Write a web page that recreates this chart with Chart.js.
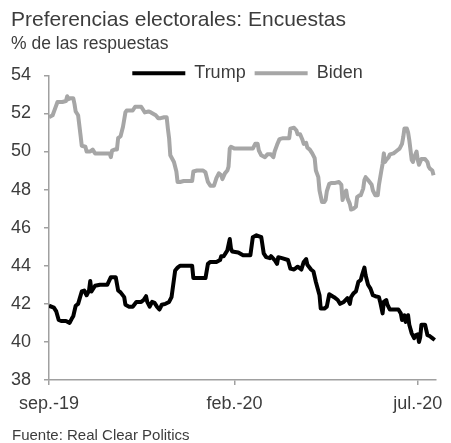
<!DOCTYPE html>
<html lang="es">
<head>
<meta charset="utf-8">
<title>Preferencias electorales: Encuestas</title>
<script src="https://cdn.jsdelivr.net/npm/chart.js@4.4.1/dist/chart.umd.min.js"></script>
<style>
  html, body { margin: 0; padding: 0; background: #ffffff; }
  #marco { width: 451px; height: 443px; }
</style>
</head>
<body>
<div id="marco"><canvas id="grafico" width="451" height="443"></canvas></div>
<script>
// Textos
const titulo = 'Preferencias electorales: Encuestas';
const subtitulo = '% de las respuestas';
const textoFuente = 'Fuente: Real Clear Politics';

// Eje X: días transcurridos desde el 1 de septiembre de 2019
const ejeMaxDia = 319;
const ticksDias = [0, 153, 304];
const ticksEtiquetas = ['sep.-19', 'feb.-20', 'jul.-20'];

// Eje Y
const yMin = 38;
const yMax = 54;
const yPaso = 2;

// Series: promedio de encuestas (%)
const nombreTrump = 'Trump';
const diasTrump = [
  0, 4, 6, 8, 10, 14, 17, 19, 20, 22, 24, 27, 29, 31, 33, 34, 35, 38, 42, 48,
  51, 55, 57, 59, 62, 63, 66, 69, 72, 76, 78, 80, 81, 83, 85, 87, 89, 91, 93, 96,
  99, 101, 104, 106, 108, 118, 119, 129, 131, 133, 138, 141, 142, 144, 146, 147, 149, 150, 151, 156,
  160, 166, 168, 171, 175, 177, 179, 182, 183, 186, 188, 189, 192, 197, 199, 202, 205, 208, 210, 212,
  213, 216, 218, 220, 223, 224, 227, 229, 231, 235, 238, 240, 243, 246, 248, 249, 251, 253, 255, 257,
  258, 260, 261, 263, 265, 267, 269, 272, 273, 275, 276, 278, 279, 281, 284, 288, 290, 291, 293, 294,
  296, 297, 299, 301, 302, 304, 305, 306, 307, 310, 312, 314, 316, 318
];
const valoresTrump = [
  41.9, 41.8, 41.6, 41.15, 41.1, 41.1, 41.0, 41.25, 41.35, 41.9, 42.0, 42.65, 42.7, 42.45, 42.7, 43.2, 42.65, 42.95, 43.0, 43.0,
  43.4, 43.4, 42.7, 42.6, 42.35, 41.95, 41.85, 41.85, 42.1, 42.1, 42.2, 42.4, 42.1, 41.85, 42.1, 42.05, 41.85, 41.7, 41.95, 42.0,
  42.1, 42.35, 43.75, 43.9, 44.0, 44.0, 43.35, 43.35, 44.1, 44.2, 44.2, 44.3, 44.5, 44.5, 44.7, 44.8, 45.4, 44.9, 44.75, 44.7,
  44.55, 44.55, 45.5, 45.6, 45.5, 44.65, 44.45, 44.4, 44.5, 44.3, 44.1, 44.45, 44.4, 44.3, 43.85, 43.8, 43.95, 43.8, 44.2, 44.35,
  44.05, 43.8, 43.7, 43.15, 42.45, 41.75, 41.75, 41.85, 42.5, 42.35, 42.2, 42.0, 42.1, 42.3, 42.0, 42.35, 42.55, 42.65, 43.15, 43.25,
  43.5, 43.9, 43.5, 43.0, 42.8, 42.45, 42.4, 42.35, 42.1, 41.5, 42.1, 42.2, 41.95, 41.7, 41.7, 41.7, 41.5, 41.15, 41.4, 41.05,
  41.4, 40.9, 40.45, 40.2, 40.35, 40.4, 40.0, 40.25, 40.9, 40.9, 40.35, 40.3, 40.2, 40.1
];

const nombreBiden = 'Biden';
const diasBiden = [
  0, 3, 5, 7, 11, 14, 15, 16, 18, 20, 21, 22, 24, 26, 27, 30, 31, 34, 36, 38,
  42, 48, 50, 51, 52, 54, 56, 57, 59, 61, 63, 64, 69, 71, 76, 78, 79, 82, 84, 88,
  90, 92, 95, 97, 98, 99, 100, 103, 105, 106, 108, 111, 118, 119, 122, 127, 129, 131, 133, 136,
  138, 140, 142, 143, 145, 147, 148, 149, 150, 153, 168, 170, 172, 173, 175, 178, 180, 183, 185, 186,
  188, 190, 193, 198, 199, 202, 204, 205, 207, 209, 210, 212, 213, 215, 217, 219, 220, 222, 223, 225,
  227, 228, 229, 231, 233, 236, 239, 241, 242, 243, 245, 246, 248, 249, 251, 253, 254, 256, 257, 259,
  260, 261, 263, 266, 267, 269, 271, 272, 274, 275, 276, 277, 278, 280, 281, 284, 286, 287, 289, 291,
  292, 293, 295, 296, 297, 299, 300, 301, 303, 304, 305, 307, 310, 312, 313, 314, 316, 317
];
const valoresBiden = [
  51.8, 51.9, 52.25, 52.6, 52.6, 52.65, 52.9, 52.75, 52.8, 52.8, 52.5, 52.1, 51.9, 50.85, 50.3, 50.25, 50.0, 50.0, 50.1, 49.9,
  49.9, 49.9, 49.9, 49.7, 50.05, 50.1, 50.1, 50.7, 50.8, 51.3, 52.05, 52.15, 52.15, 52.35, 52.35, 52.15, 52.05, 52.1, 52.05, 51.9,
  51.75, 51.75, 51.8, 51.8, 51.2, 50.7, 49.8, 49.45, 48.95, 48.4, 48.4, 48.45, 48.45, 48.95, 49.0, 49.0, 48.9, 48.4, 48.2, 48.2,
  48.6, 48.85, 48.75, 48.55, 48.85, 49.0, 49.2, 50.15, 50.25, 50.15, 50.15, 50.4, 50.4, 50.05, 49.8, 49.7, 49.85, 49.85, 49.7, 50.0,
  50.35, 50.65, 50.7, 50.7, 51.2, 51.25, 51.1, 50.9, 50.9, 50.6, 50.4, 50.45, 50.2, 50.1, 49.9, 49.65, 49.0, 48.65, 47.95, 47.35,
  47.35, 47.45, 47.9, 48.3, 48.35, 48.35, 48.4, 48.25, 47.45, 47.7, 47.95, 47.55, 47.25, 46.95, 47.0, 47.1, 47.6, 47.7, 47.7, 48.05,
  48.5, 48.65, 48.5, 48.25, 47.95, 47.7, 47.7, 48.25, 49.0, 49.35, 49.9, 49.45, 49.55, 49.7, 49.85, 49.9, 50.0, 50.05, 50.15, 50.4,
  50.75, 51.2, 51.2, 51.0, 50.6, 49.55, 49.45, 49.7, 50.0, 49.55, 49.3, 49.6, 49.6, 49.45, 49.2, 49.1, 49.0, 48.75
];

// Estilo
const familia = '"Liberation Sans", Arial, Helvetica, sans-serif';
const colorTexto = '#3c3c3c';
const colorEje = '#a0a0a0';
const colorTrump = '#000000';
const colorBiden = '#a6a6a6';

const puntos = (dias, valores) => dias.map((d, i) => ({ x: d, y: valores[i] }));

// La leyenda ocupa una franja baja sobre el área del gráfico; se amplía su
// zona de recorte para que las etiquetas se dibujen completas y se desplaza
// ligeramente hacia la derecha.
const ajusteLeyenda = {
  id: 'ajusteLeyenda',
  afterLayout(chart) {
    const ley = chart.legend;
    if (ley) {
      ley.height += 20;
      ley.bottom += 20;
      ley.left += 5;
      ley.right += 5;
    }
  }
};

// Nota de fuente al pie del gráfico
const notaFuente = {
  id: 'notaFuente',
  afterDraw(chart) {
    const ctx = chart.ctx;
    ctx.save();
    ctx.font = '15px ' + familia;
    ctx.fillStyle = colorTexto;
    ctx.textAlign = 'left';
    ctx.textBaseline = 'alphabetic';
    ctx.fillText(textoFuente, 12, 440);
    ctx.restore();
  }
};

Chart.defaults.font.family = familia;
Chart.defaults.color = colorTexto;

new Chart(document.getElementById('grafico'), {
  type: 'line',
  data: {
    datasets: [
      {
        label: nombreTrump,
        data: puntos(diasTrump, valoresTrump),
        borderColor: colorTrump,
        backgroundColor: colorTrump,
        borderWidth: 4
      },
      {
        label: nombreBiden,
        data: puntos(diasBiden, valoresBiden),
        borderColor: colorBiden,
        backgroundColor: colorBiden,
        borderWidth: 4
      }
    ]
  },
  options: {
    responsive: false,
    animation: false,
    devicePixelRatio: 1,
    parsing: false,
    layout: { padding: { left: 11, right: 11, top: 0, bottom: 28 } },
    elements: {
      point: { radius: 0, hoverRadius: 0 },
      line: { tension: 0, borderJoinStyle: 'round', borderCapStyle: 'butt' }
    },
    plugins: {
      title: {
        display: true,
        text: titulo,
        align: 'start',
        color: colorTexto,
        font: { size: 21, weight: 'normal' },
        padding: { top: 7.4, bottom: 0 }
      },
      subtitle: {
        display: true,
        text: subtitulo,
        align: 'start',
        color: colorTexto,
        font: { size: 17.5, weight: 'normal' },
        padding: { top: 1.5, bottom: 0.2 }
      },
      legend: {
        display: true,
        position: 'top',
        fullSize: false,
        maxHeight: 20,
        labels: {
          usePointStyle: true,
          pointStyle: 'line',
          pointStyleWidth: 53,
          padding: 9,
          color: colorTexto,
          font: { size: 18 }
        }
      },
      tooltip: { enabled: false }
    },
    scales: {
      x: {
        type: 'linear',
        min: 0,
        max: ejeMaxDia,
        afterBuildTicks: (eje) => { eje.ticks = ticksDias.map(v => ({ value: v })); },
        afterFit: (eje) => { eje.height = 35; },
        ticks: {
          autoSkip: false,
          maxRotation: 0,
          padding: 8,
          color: colorTexto,
          font: { size: 18 },
          callback: (valor) => {
            const i = ticksDias.indexOf(valor);
            return i >= 0 ? ticksEtiquetas[i] : '';
          }
        },
        grid: { drawOnChartArea: false, drawTicks: true, tickLength: 5, color: colorEje, lineWidth: 1.5 },
        border: { display: true, color: colorEje, width: 1.5 }
      },
      y: {
        min: yMin,
        max: yMax,
        afterFit: (eje) => { eje.width = 38; },
        ticks: {
          stepSize: yPaso,
          padding: 13,
          color: colorTexto,
          font: { size: 18 }
        },
        grid: { drawOnChartArea: false, drawTicks: true, tickLength: 5, color: colorEje, lineWidth: 1.5 },
        border: { display: true, color: colorEje, width: 1.5 }
      }
    }
  },
  plugins: [ajusteLeyenda, notaFuente]
});
</script>
</body>
</html>
